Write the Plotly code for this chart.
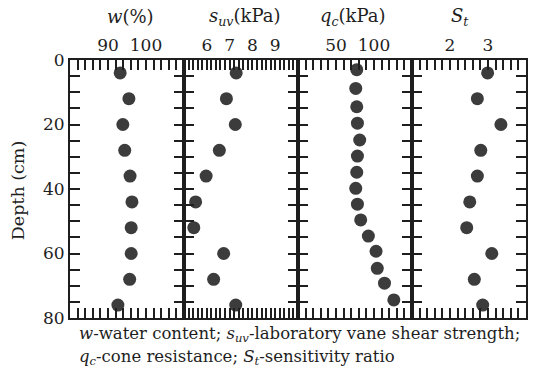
import plotly.graph_objects as go
from plotly.subplots import make_subplots

# Soil profile measurements against depth
depth = [4, 12, 20, 28, 36, 44, 52, 60, 68, 76]
water_content = [93.2, 95.5, 93.9, 94.4, 95.8, 96.3, 96.1, 96.1, 95.7, 92.6]
vane_strength = [7.29, 6.86, 7.25, 6.55, 5.97, 5.51, 5.43, 6.74, 6.30, 7.27]
sensitivity = [2.99, 2.72, 3.34, 2.81, 2.72, 2.52, 2.44, 3.10, 2.64, 2.86]

depth_cone = [3, 8.8, 14.5, 19.6, 24.8, 29.8, 34.8, 39.8, 44.7, 49.6, 54.6, 59.3, 64.6, 69.2, 74.4]
cone_resistance = [77.3, 76.0, 77.3, 78.2, 81.2, 78.2, 77.3, 76.0, 78.2, 82.5, 92.6, 102.7, 104.3, 113.8, 126.1]

panel_titles = ["<i>w</i>(%)", "<i>s</i><sub><i>uv</i></sub>(kPa)",
                "<i>q</i><sub><i>c</i></sub>(kPa)", "<i>S</i><sub><i>t</i></sub>"]
x_ranges = [[80, 110], [5, 10], [0, 150], [1, 4]]
x_labels = [[90, 100], [6, 7, 8, 9], [50, 100], [2, 3]]
x_minor = [2, 0.2, 10, 0.2]
depth_labels = [0, 20, 40, 60, 80]
depth_step = 5

FONT = "DejaVu Serif"
INK = "#1e1e1e"
DOT = "#3c3c3c"

W, H = 539, 372
L, R, T, B = 70, 11, 60, 54
pw, ph = W - L - R, H - T - B


def px_x(x):
    return (x - L) / pw


def px_y(y):
    return (H - B - y) / ph


def tick_positions(lo, hi, step):
    n = int(round((hi - lo) / step))
    return [round(lo + k * step, 6) for k in range(n + 1)]


def tick_text(vals, labels):
    out = []
    for v in vals:
        hit = [lab for lab in labels if abs(lab - v) < 1e-6]
        out.append(str(hit[0]) if hit else "")
    return out


fig = make_subplots(rows=1, cols=4, shared_yaxes=False, horizontal_spacing=0)

series = [(water_content, depth), (vane_strength, depth),
          (cone_resistance, depth_cone), (sensitivity, depth)]
for i, (xs, ys) in enumerate(series, start=1):
    fig.add_trace(go.Scatter(x=xs, y=ys, mode="markers",
                             marker=dict(size=13, color=DOT, line=dict(width=0)),
                             showlegend=False, cliponaxis=False),
                  row=1, col=i)

# Inward ticks on every frame edge; neighbouring panels' ticks meet as crosses on the dividers
yvals = tick_positions(0, 80, depth_step)
for i in range(4):
    vals = tick_positions(x_ranges[i][0], x_ranges[i][1], x_minor[i])
    fig.update_xaxes(row=1, col=i + 1, range=x_ranges[i], side="top",
                     tickmode="array", tickvals=vals,
                     ticktext=tick_text(vals, x_labels[i]),
                     ticks="inside", ticklen=10, tickwidth=1.5, tickcolor=INK,
                     showline=True, linewidth=2, linecolor=INK, mirror="ticks",
                     showgrid=False, zeroline=False,
                     tickfont=dict(family=FONT, size=17, color=INK))
    fig.update_yaxes(row=1, col=i + 1, range=[80, 0], autorange=False,
                     tickmode="array", tickvals=yvals,
                     ticktext=tick_text(yvals, depth_labels),
                     ticks="inside", ticklen=10, tickwidth=1.5, tickcolor=INK,
                     showline=True, linewidth=2, linecolor=INK, mirror="ticks",
                     showgrid=False, zeroline=False, showticklabels=(i == 0),
                     tickfont=dict(family=FONT, size=17, color=INK))

# Panel headings
title_x = [131, 245, 354, 462]
for tx, text in zip(title_x, panel_titles):
    fig.add_annotation(x=px_x(tx), y=px_y(17), xref="paper", yref="paper",
                       text=text, showarrow=False, xanchor="center", yanchor="middle",
                       font=dict(family=FONT, size=18, color=INK))

fig.add_annotation(x=px_x(18), y=px_y(190), xref="paper", yref="paper",
                   text="Depth (cm)", textangle=-90, showarrow=False,
                   xanchor="center", yanchor="middle",
                   font=dict(family=FONT, size=17.5, color=INK))

captions = ["<i>w</i>-water content; <i>s</i><sub><i>uv</i></sub>-laboratory vane shear strength;",
            "<i>q</i><sub><i>c</i></sub>-cone resistance; <i>S</i><sub><i>t</i></sub>-sensitivity ratio"]
for cy, text in zip([334, 357], captions):
    fig.add_annotation(x=px_x(77), y=px_y(cy), xref="paper", yref="paper",
                       text=text, showarrow=False, xanchor="left", yanchor="middle",
                       font=dict(family=FONT, size=16.5, color=INK))

fig.update_layout(width=W, height=H, margin=dict(l=L, r=R, t=T, b=B),
                  paper_bgcolor="white", plot_bgcolor="rgba(0,0,0,0)",
                  font=dict(family=FONT, color=INK))

fig.write_html("out.html")
